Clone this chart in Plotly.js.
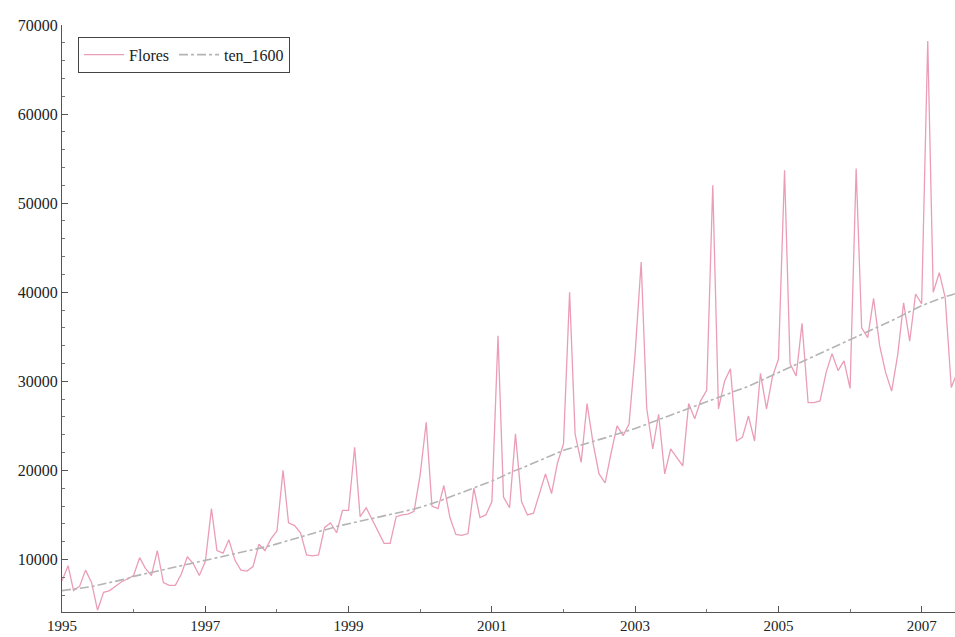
<!DOCTYPE html>
<html>
<head>
<meta charset="utf-8">
<script src="https://cdn.plot.ly/plotly-3.0.1.min.js"></script>
<style>html,body{margin:0;padding:0;background:#fff;}#chart{width:955px;height:637px;}</style>
</head>
<body>
<div id="chart"></div>
<script>
// Monthly series, January 1995 onwards
const startYear = 1995;
const flores = [
  7600, 9300, 6500, 7000, 8800, 7400, 4300, 6300, 6500, 7000, 7500, 7800,
  8200, 10200, 9000, 8200, 11000, 7400, 7100, 7100, 8400, 10300, 9500, 8200,
  9800, 15700, 11000, 10700, 12200, 9900, 8800, 8700, 9200, 11700, 11000, 12300,
  13200, 20000, 14100, 13800, 13000, 10500, 10400, 10500, 13600, 14100, 13000, 15500,
  15500, 22600, 14800, 15800, 14500, 13000, 11800, 11800, 14800, 15000, 15100, 15400,
  19500, 25400, 16000, 15700, 18300, 14700, 12800, 12700, 12900, 18000, 14700, 15000,
  16500, 35100, 17000, 15800, 24100, 16500, 15000, 15200, 17500, 19600, 17400, 20800,
  23000, 40000, 24100, 20900, 27500, 23000, 19600, 18600, 22000, 25000, 23900, 25200,
  33100, 43400, 27000, 22400, 26300, 19600, 22400, 21400, 20500, 27500, 25800, 27800,
  29000, 52000, 26900, 30000, 31400, 23300, 23700, 26100, 23300, 30900, 26900, 30500,
  32500, 53700, 32000, 30600, 36500, 27600, 27600, 27800, 31000, 33100, 31200, 32300,
  29200, 53900, 36000, 34900, 39300, 34000, 31000, 28900, 33000, 38800, 34500, 39800,
  38700, 68200, 40000, 42200, 39400, 29300, 31000
];
const ten_1600 = [
  6500, 6580, 6660, 6750, 6850, 6950, 7100, 7250, 7400, 7550, 7700, 7850,
  8100, 8250, 8400, 8550, 8700, 8850, 9000, 9150, 9300, 9450, 9600, 9750,
  9900, 10050, 10200, 10350, 10500, 10650, 10800, 10950, 11100, 11250, 11400, 11550,
  11750, 11950, 12150, 12350, 12550, 12750, 12950, 13150, 13350, 13550, 13700, 13850,
  14000, 14150, 14300, 14450, 14600, 14750, 14900, 15050, 15200, 15350, 15500, 15650,
  15850, 16050, 16250, 16500, 16750, 17000, 17250, 17500, 17750, 18000, 18250, 18500,
  18800, 19100, 19400, 19700, 20000, 20250, 20500, 20800, 21100, 21400, 21700, 22000,
  22250, 22450, 22650, 22850, 23050, 23250, 23450, 23650, 23850, 24050, 24250, 24450,
  24700, 24950, 25200, 25450, 25700, 25950, 26200, 26450, 26700, 26950, 27200, 27450,
  27700, 27950, 28200, 28450, 28700, 28950, 29200, 29450, 29750, 30050, 30350, 30650,
  31000, 31300, 31600, 31900, 32200, 32500, 32800, 33100, 33400, 33700, 34000, 34300,
  34650, 34950, 35250, 35550, 35850, 36150, 36450, 36800, 37150, 37500, 37850, 38200,
  38500, 38750, 39000, 39250, 39500, 39700, 39900
];
const yTicks = [10000, 20000, 30000, 40000, 50000, 60000, 70000];
const seriesNames = ["Flores", "ten_1600"];

const months = flores.map((_, i) =>
  (startYear + Math.floor(i / 12)) + "-" + String(i % 12 + 1).padStart(2, "0") + "-01");

const serif = "Liberation Serif, Times New Roman, serif";

const traces = [
  {
    x: months, y: flores, name: seriesNames[0], type: "scatter", mode: "lines",
    line: {color: "#eb9db6", width: 1.3}
  },
  {
    x: months, y: ten_1600, name: seriesNames[1], type: "scatter", mode: "lines",
    line: {color: "#b4b4b4", width: 1.6, dash: "dashdot"}
  }
];

const layout = {
  width: 955, height: 637,
  margin: {l: 62, r: 0, t: 25, b: 25},
  paper_bgcolor: "#ffffff", plot_bgcolor: "#ffffff",
  font: {family: serif, size: 15, color: "#222"},
  showlegend: true,
  legend: {
    orientation: "h", x: 0.018, y: 0.98, xanchor: "left", yanchor: "top",
    bordercolor: "#444", borderwidth: 1, bgcolor: "rgba(255,255,255,0)",
    itemwidth: 40,
    font: {family: serif, size: 16, color: "#222"}
  },
  xaxis: {
    type: "date",
    range: ["1995-01-01", "2007-06-20"],
    tick0: "1995-01-01", dtick: "M24", tickformat: "%Y",
    ticks: "inside", ticklen: 6, tickcolor: "#555",
    minor: {dtick: "M12", ticks: "inside", ticklen: 3, tickcolor: "#777"},
    showline: true, linecolor: "#555", linewidth: 1,
    showgrid: false, zeroline: false,
    tickfont: {family: serif, size: 15, color: "#222"}
  },
  yaxis: {
    range: [4100, 70000],
    tickvals: yTicks, ticktext: yTicks.map(String),
    ticks: "inside", ticklen: 6, tickcolor: "#555",
    minor: {dtick: 2000, tick0: 0, ticks: "inside", ticklen: 3, tickcolor: "#777"},
    showline: true, linecolor: "#555", linewidth: 1,
    showgrid: false, zeroline: false,
    tickfont: {family: serif, size: 16, color: "#222"}
  }
};

Plotly.newPlot("chart", traces, layout, {displayModeBar: false, staticPlot: true});
</script>
</body>
</html>
